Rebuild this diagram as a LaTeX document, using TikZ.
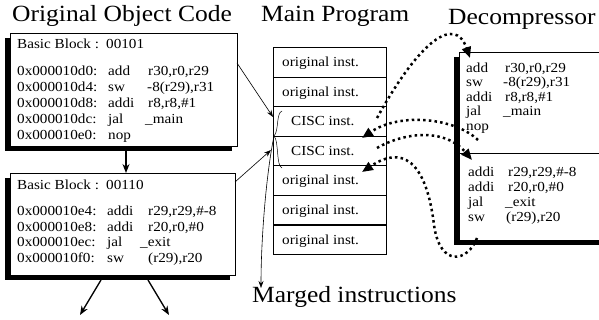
\documentclass[tikz,border=0pt]{standalone}
\usepackage{fontspec}
\setmainfont{Liberation Serif}[FakeStretch=1.1]
\usetikzlibrary{arrows.meta,shadows}
\begin{document}
\begin{tikzpicture}[x=1pt,y=-1pt,
  ttl/.style={anchor=base west,inner sep=0pt,font=\fontsize{23.2}{25}\selectfont},
  txt/.style={anchor=base west,inner sep=0pt,font=\fontsize{13.8}{14}\selectfont},
  codebox/.style={draw,fill=white,line width=0.6pt,anchor=north west,inner sep=0pt,
     general shadow={fill=black,shadow xshift=-5pt,shadow yshift=-5pt}},
  row/.style={draw,line width=0.6pt,minimum width=113pt,minimum height=29.57pt,anchor=north west,inner sep=0pt},
  thinarrow/.style={line width=0.6pt,-{Stealth[length=7pt,width=5pt]}},
  dotarrow/.style={line width=2.5pt,dash pattern=on 2.5pt off 3.2pt,-{Triangle[length=11pt,width=9pt]}},
  thickarrow/.style={line width=1.3pt,-{Stealth[length=9pt,width=7pt]}}]
\useasboundingbox (0,0) rectangle (599,320);
\clip (0,0) rectangle (599,320);

% titles
\node[ttl] (t1) at (12,22) {Original Object Code};
\node[ttl] (t2) at (261,22) {Main Program};
\node[ttl] (t3) at (448,25) {Decompressor};
\node[ttl] (t4) at (252,302) {Marged instructions};

% box 1
\node[codebox,minimum width=227pt,minimum height=113pt] (b1) at (10,33) {};
\node[txt] (b1h) at (17,49) {Basic Block :};
\node[txt] (b1n) at (106,49) {00101};
\foreach \a/\m/\o/\ox [count=\i] in {0x000010d0:/add/{r30,r0,r29}/148, 0x000010d4:/sw/{-8(r29),r31}/147, 0x000010d8:/addi/{r8,r8,\#1}/148, 0x000010dc:/jal/{\_main}/145, 0x000010e0:/nop/{}/148}{
  \node[txt] (b1a\i) at (17,59.7+16*\i) {\a};
  \node[txt] (b1m\i) at (108,59.7+16*\i) {\m};
  \node[txt] (b1o\i) at (\ox,59.7+16*\i) {\o};
}

% box 2
\node[codebox,minimum width=225pt,minimum height=102pt] (b2) at (10,173) {};
\node[txt] (b2h) at (17,189.5) {Basic Block :};
\node[txt] (b2n) at (106,189.5) {00110};
\foreach \a/\m/\o/\ox [count=\i] in {0x000010e4:/addi/{r29,r29,\#-8}/148, 0x000010e8:/addi/{r20,r0,\#0}/148, 0x000010ec:/jal/{\_exit}/140, 0x000010f0:/sw/{(r29),r20}/148}{
  \node[txt] (b2a\i) at (17,199.8+15.7*\i) {\a};
  \node[txt] (b2m\i) at (107,199.8+15.7*\i) {\m};
  \node[txt] (b2o\i) at (\ox,199.8+15.7*\i) {\o};
}

% arrows between boxes
\coordinate (a1s) at (126,151);
\draw[thickarrow] (a1s) -- (b2.north -| a1s);
\coordinate (o1) at (80,315);
\coordinate (o2) at (169,315);
\coordinate (o1s) at (101,280);
\coordinate (o2s) at (148,280);
\draw[thickarrow] (o1s) -- (o1);
\draw[thickarrow] (o2s) -- (o2);

% main program rows
\foreach \i in {1,...,7}{
  \node[row] (r\i) at (273,47+29.57*\i-29.57) {};
}
\foreach \i in {1,2,5,6,7}{\node[txt] (rt\i) at ([xshift=9pt,yshift=-4.5pt]r\i.west) {original inst.};}
\foreach \i in {3,4}{\node[txt] (rt\i) at ([xshift=18pt,yshift=-4.5pt]r\i.west) {CISC inst.};}
\foreach \i in {1,4,5,6}{\draw[line width=1.2pt] (r\i.south west) -- (r\i.south east);}

% brace
\coordinate (cusp) at (274,136);
\draw[line width=0.5pt] (282,111) .. controls (276,113) and (279,131) .. (cusp)
      .. controls (279,141) and (276,166) .. (282,168);

% thin arrows into main program
\coordinate (in1) at (273,117);
\coordinate (in2) at (271,150);
\coordinate (b1s) at (237,63);
\coordinate (b2s) at (235,182);
\draw[thinarrow] (b1s) -- (in1);
\draw[thinarrow] (b2s) -- (in2);
\coordinate (mi) at (261,288);
\draw[thinarrow] (cusp) .. controls (266,175) and (261,240) .. (mi);

% decompressor
\node[codebox,minimum width=160pt,minimum height=188pt,general shadow={fill=black,shadow xshift=-4pt,shadow yshift=-5pt}] (dc) at (459,52) {};
\draw[line width=0.6pt] (dc.west |- 0,153) -- (dc.east |- 0,153);
\foreach \m/\o/\ox [count=\i] in {add/{r30,r0,r29}/505, sw/{-8(r29),r31}/503, addi/{r8,r8,\#1}/505, jal/{\_main}/503, nop/{}/505}{
  \node[txt] (d1m\i) at (466,58+14.5*\i) {\m};
  \node[txt] (d1o\i) at (\ox,58+14.5*\i) {\o};
}
\foreach \m/\o/\ox [count=\i] in {addi/{r29,r29,\#-8}/508, addi/{r20,r0,\#0}/508, jal/{\_exit}/505, sw/{(r29),r20}/506}{
  \node[txt] (d2m\i) at (468,162+15*\i) {\m};
  \node[txt] (d2o\i) at (\ox,162+15*\i) {\o};
}

% dotted arrows
\coordinate (s1) at (377,118);
\coordinate (e1) at (470,58);
\coordinate (s2) at (478,140);
\coordinate (e2) at (362,138);
\coordinate (s3) at (377,148);
\coordinate (e3) at (472,160);
\coordinate (s4) at (477,238);
\coordinate (e4) at (362,172);
\draw[dotarrow] (s1) .. controls (420,40) and (455,15) .. (e1);
\draw[dotarrow] (s2) .. controls (455,118) and (400,112) .. (e2);
\draw[dotarrow] (s3) .. controls (405,132) and (445,128) .. (e3);
\draw[dotarrow] (s4) .. controls (468,262) and (440,268) .. (434,225)
      .. controls (428,175) and (410,140) .. (e4);
\end{tikzpicture}
\end{document}
